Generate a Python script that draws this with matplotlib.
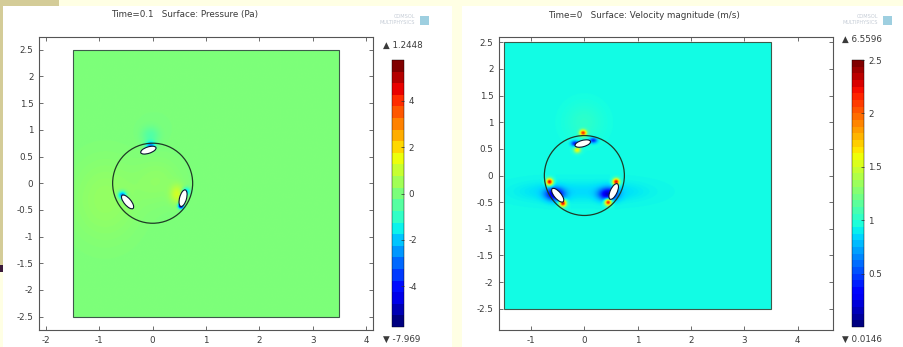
import numpy as np
import matplotlib
matplotlib.use("Agg")
import matplotlib.pyplot as plt
from matplotlib.patches import Rectangle, Ellipse, Circle
from matplotlib.colors import Normalize
from matplotlib.cm import ScalarMappable

plt.rcParams['axes.unicode_minus'] = False
plt.rcParams['font.family'] = ['DejaVu Sans']

W, H = 904, 347

# ---------------- data ----------------
titles = ["Time=0.1   Surface: Pressure (Pa)", "Time=0   Surface: Velocity magnitude (m/s)"]
domain = [-1.5, 3.5, -2.5, 2.5]          # x0, x1, y0, y1
rotor_radius = 0.75

# pressure field (Pa): background + localized disturbances
p_background = 0.0
p_blob_x = [-0.9, 0.45, -0.05, -0.58, 0.52, 0.62, -0.05, 0.1]
p_blob_y = [-0.3, -0.2, 0.72, -0.22, -0.42, -0.15, 0.9, 0.05]
p_blob_amp = [0.35, 1.1, -2.6, -3.2, -6.0, -2.2, -0.6, 0.25]
p_blob_sx = [0.45, 0.09, 0.06, 0.05, 0.035, 0.05, 0.12, 0.3]
p_blob_sy = [0.55, 0.12, 0.05, 0.05, 0.035, 0.05, 0.12, 0.3]
p_levels_min, p_levels_max, p_nlevels = -5.75, 5.75, 23
p_cbar_ticks = [4, 2, 0, -2, -4]
p_max_label, p_min_label = "1.2448", "-7.969"

# velocity magnitude field (m/s)
v_background = 0.93
v_blob_x = [-0.55, 0.45, -0.17, 0.17, -0.02, -0.13, -0.65, -0.4, 0.6, 0.45, 0.0, -0.6, 0.5]
v_blob_y = [-0.35, -0.35, 0.6, 0.66, 0.8, 0.48, -0.12, -0.52, -0.12, -0.5, 1.0, -0.3, -0.3]
v_blob_amp = [-0.72, -0.72, -0.6, -0.55, 1.2, 0.7, 1.4, 1.4, 1.4, 1.4, 0.08, -0.08, -0.08]
v_blob_sx = [0.12, 0.12, 0.05, 0.05, 0.045, 0.045, 0.045, 0.045, 0.045, 0.045, 0.25, 0.45, 0.45]
v_blob_sy = [0.08, 0.08, 0.035, 0.035, 0.04, 0.04, 0.045, 0.045, 0.045, 0.045, 0.25, 0.12, 0.12]
v_levels_min, v_levels_max, v_nlevels = 0.0, 2.5, 40
v_cbar_ticks = [2.5, 2, 1.5, 1, 0.5]
v_max_label, v_min_label = "6.5596", "0.0146"

# blades (white holes)
p_blade_x = [-0.08, -0.47, 0.57]
p_blade_y = [0.62, -0.35, -0.28]
p_blade_ang = [18, -50, 75]
v_blade_x = [-0.03, -0.5, 0.55]
v_blade_y = [0.6, -0.37, -0.3]
v_blade_ang = [15, -50, 65]
blade_len = [0.3, 0.32, 0.32]
blade_wid = [0.12, 0.13, 0.13]

p_xticks = [-2, -1, 0, 1, 2, 3, 4]
v_xticks = [-1, 0, 1, 2, 3, 4]
yticks = [-2.5, -2, -1.5, -1, -0.5, 0, 0.5, 1, 1.5, 2, 2.5]
p_xlim, p_ylim = (-2.13, 4.13), (-2.75, 2.74)
v_xlim, v_ylim = (-1.6, 4.66), (-2.9, 2.6)


def field(background, bx, by, amp, sx, sy, n=500):
    x = np.linspace(domain[0], domain[1], n)
    y = np.linspace(domain[2], domain[3], n)
    X, Y = np.meshgrid(x, y)
    Z = np.full_like(X, background, dtype=float)
    for cx, cy, a, ssx, ssy in zip(bx, by, amp, sx, sy):
        Z += a * np.exp(-((X - cx) ** 2 / (2 * ssx ** 2) + (Y - cy) ** 2 / (2 * ssy ** 2)))
    return Z


def px(x0, y0, w, h):
    return [x0 / W, 1 - (y0 + h) / H, w / W, h / H]


fig = plt.figure(figsize=(W / 100, H / 100), dpi=100)
fig.patch.set_facecolor('#FFFFE4')

# background panels
bgpatches = [
    (0, 0, 59, 6, '#D4CC98'),
    (0, 0, 3, 265, '#D4CC98'),
    (0, 265, 9, 7, '#3A1A3A'),
    (3, 6, 449, 341, 'white'),
    (462, 6, 442, 341, 'white'),
]
for x0, y0, w, h, c in bgpatches:
    fig.add_artist(Rectangle((x0 / W, 1 - (y0 + h) / H), w / W, h / H,
                             transform=fig.transFigure, facecolor=c,
                             edgecolor='none', zorder=-10))

txtc = '#3a3a3a'
fs = 6.3

panels = [
    dict(ax=px(39, 37, 334, 293), cax=px(392, 60, 12, 267), title_x=185,
         Z=field(p_background, p_blob_x, p_blob_y, p_blob_amp, p_blob_sx, p_blob_sy),
         vmin=p_levels_min, vmax=p_levels_max, nl=p_nlevels, cticks=p_cbar_ticks,
         maxl=p_max_label, minl=p_min_label, bx=p_blade_x, by=p_blade_y, ba=p_blade_ang,
         xticks=p_xticks, xlim=p_xlim, ylim=p_ylim, title=titles[0],
         maxy=45, logo_x=415, cbar_x=383),
    dict(ax=px(499, 37, 334, 293), cax=px(852, 60, 12, 267), title_x=644,
         Z=field(v_background, v_blob_x, v_blob_y, v_blob_amp, v_blob_sx, v_blob_sy),
         vmin=v_levels_min, vmax=v_levels_max, nl=v_nlevels, cticks=v_cbar_ticks,
         maxl=v_max_label, minl=v_min_label, bx=v_blade_x, by=v_blade_y, ba=v_blade_ang,
         xticks=v_xticks, xlim=v_xlim, ylim=v_ylim, title=titles[1],
         maxy=39, logo_x=878, cbar_x=842),
]

for P in panels:
    ax = fig.add_axes(P['ax'])
    ax.set_facecolor('white')
    norm = Normalize(P['vmin'], P['vmax'])
    Z = np.clip(P['Z'], P['vmin'], P['vmax'])
    ax.imshow(Z, origin='lower', extent=domain, cmap='jet', norm=norm,
              interpolation='bilinear', aspect='auto')
    ax.add_patch(Rectangle((domain[0], domain[2]), domain[1] - domain[0],
                           domain[3] - domain[2], fill=False, edgecolor='#3d5a4a', lw=0.8))
    ax.add_patch(Circle((0, 0), rotor_radius, fill=False, edgecolor='#1e3a26', lw=0.9))
    for bx, by, ba, bl, bw in zip(P['bx'], P['by'], P['ba'], blade_len, blade_wid):
        ax.add_patch(Ellipse((bx, by), bl, bw, angle=ba, facecolor='white',
                             edgecolor='#0a1430', lw=0.8))
    ax.set_xlim(*P['xlim'])
    ax.set_ylim(*P['ylim'])
    ax.set_xticks(P['xticks'])
    ax.set_xticklabels([f"{t:g}" for t in P['xticks']])
    ax.set_yticks(yticks)
    ax.set_yticklabels([f"{t:g}" for t in yticks])
    ax.tick_params(direction='in', length=3, width=0.6, color='#555',
                   top=True, right=True, labelsize=fs, labelcolor=txtc, pad=4)
    for s in ax.spines.values():
        s.set_color('#555')
        s.set_linewidth(0.8)

    cax = fig.add_axes(P['cax'])
    sm = ScalarMappable(norm=norm, cmap=plt.get_cmap('jet', P['nl']))
    cb = fig.colorbar(sm, cax=cax)
    cb.set_ticks(P['cticks'])
    cb.set_ticklabels([f"{t:g}" for t in P['cticks']])
    cb.ax.tick_params(direction='in', length=2, width=0.5, color='#333',
                      labelsize=fs, labelcolor=txtc, pad=3)
    cb.outline.set_linewidth(0.3)

    fig.text(P['title_x'] / W, 1 - 15 / H, P['title'], ha='center', va='center',
             fontsize=fs, color=txtc)
    fig.text(P['cbar_x'] / W, 1 - P['maxy'] / H, "\u25B2 " + P['maxl'], ha='left',
             va='center', fontsize=fs, color=txtc)
    fig.text(P['cbar_x'] / W, 1 - 339 / H, "\u25BC " + P['minl'], ha='left',
             va='center', fontsize=fs, color=txtc)
    # faint logo
    fig.text(P['logo_x'] / W, 1 - 16 / H, "COMSOL", ha='right', va='center',
             fontsize=3.6, color='#c5ccd6')
    fig.text(P['logo_x'] / W, 1 - 22 / H, "MULTIPHYSICS", ha='right', va='center',
             fontsize=3.6, color='#c5ccd6')
    fig.add_artist(Rectangle(((P['logo_x'] + 5) / W, 1 - 25 / H), 9 / W, 9 / H,
                             transform=fig.transFigure, facecolor='#9ecfe0',
                             edgecolor='none'))

fig.savefig('out.png', dpi=100, facecolor=fig.get_facecolor())
